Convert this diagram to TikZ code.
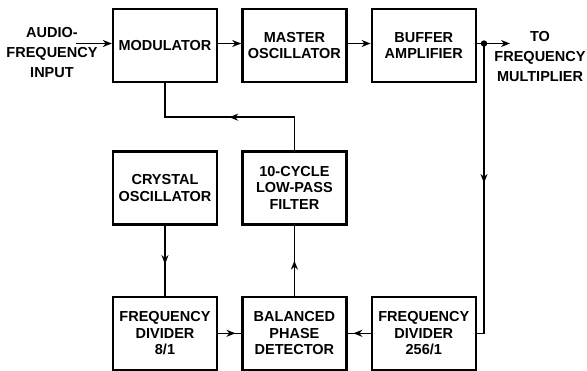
\documentclass[tikz,border=0pt]{standalone}
\usepackage{fontspec}
\setmainfont{Liberation Sans}
\usetikzlibrary{positioning, arrows.meta, decorations.markings, calc}

\tikzset{
  blockbox/.style={draw, line width=2.4pt, minimum width=104pt, minimum height=73pt, align=center, inner sep=1pt},
  sidetext/.style={align=center, font=\fontsize{14.5}{20}\selectfont\bfseries},
  sigline/.style={line width=1.5pt},
  tipend/.style={-{Stealth[length=9pt, width=7pt]}},
  midarrow/.style={postaction={decorate}, decoration={markings, mark=at position #1 with {\arrow{Stealth[length=9pt, width=7pt]}}}}
}

\begin{document}
\begin{tikzpicture}[x=1pt, y=1pt, font=\fontsize{14.5}{16.7}\selectfont\bfseries]
\useasboundingbox (0,0) rectangle (587,-370);
% top row
\node[blockbox] (mod) at (165,-45.5) {MODULATOR};
\node[blockbox, right=23pt of mod] (masterosc) {MASTER\\OSCILLATOR};
\node[blockbox, right=23pt of masterosc] (buffer) {BUFFER\\AMPLIFIER};
% middle row
\node[blockbox, below=67pt of mod] (crystal) {CRYSTAL\\OSCILLATOR};
\node[blockbox, below=67pt of masterosc] (filter) {10-CYCLE\\LOW-PASS\\FILTER};
% bottom row
\node[blockbox, below=70pt of crystal] (div8) {FREQUENCY\\DIVIDER\\8/1};
\node[blockbox, below=70pt of filter] (detector) {BALANCED\\PHASE\\DETECTOR};
\node[blockbox, right=23pt of detector] (div256) {FREQUENCY\\DIVIDER\\256/1};
% in and out
\node[sidetext] (audio) at (52,-53) {AUDIO-\\FREQUENCY\\INPUT};
\coordinate (audioin) at ($(mod.west)+(-36,2)$);
\coordinate (tap) at ($(buffer.east)+(7,2)$);
\coordinate (out) at ($(tap)+(26,0)$);
\node[sidetext] (tofreq) at (540,-57) {TO\\FREQUENCY\\MULTIPLIER};

\draw[sigline, tipend] (audioin) -- (audioin -| mod.west);
\draw[sigline, tipend] (mod.east |- audioin) -- (masterosc.west |- audioin);
\draw[sigline, tipend] (masterosc.east |- tap) -- (buffer.west |- tap);
\draw[sigline] (buffer.east |- tap) -- (tap);
\draw[sigline, tipend] (tap) -- (out);
\fill (tap) circle (3.2pt);
\draw[sigline, midarrow=0.47] (tap) |- (div256);
\draw[sigline, midarrow=0.5] (filter.north) -- ++(0,33) -| (mod.south);
\draw[sigline, midarrow=0.55] (crystal) -- (div8);
\draw[sigline, midarrow=0.75] (div8) -- (detector);
\draw[sigline, midarrow=0.5] (detector) -- (filter);
\draw[sigline, midarrow=0.75] (div256) -- (detector);
\end{tikzpicture}
\end{document}
